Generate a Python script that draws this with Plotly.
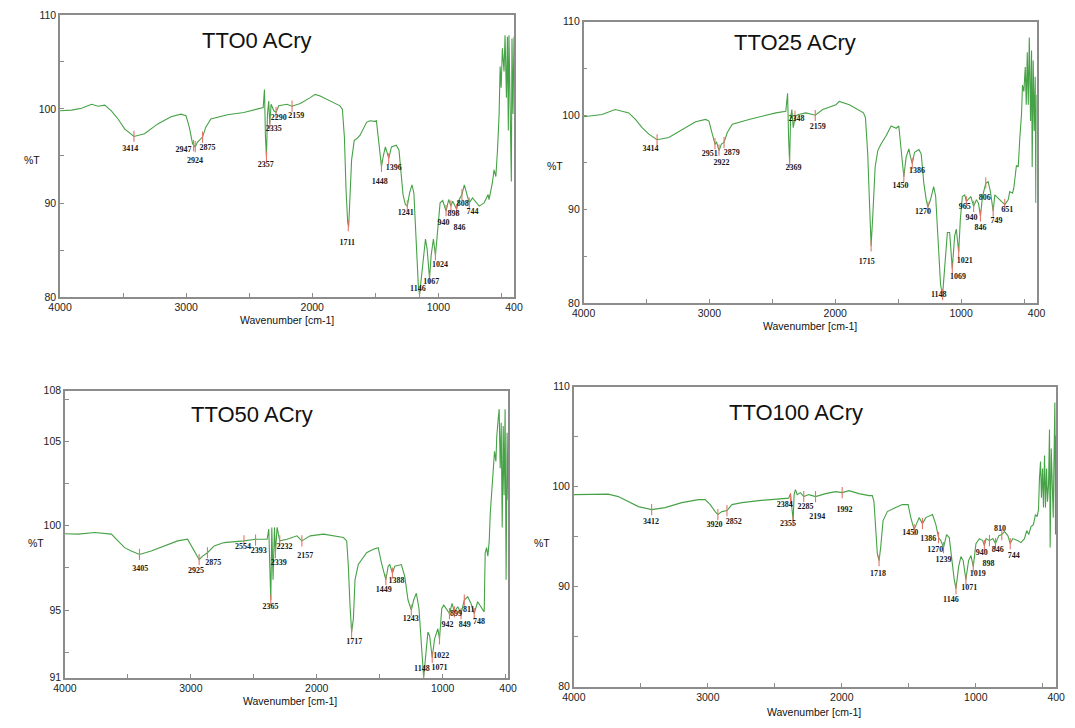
import plotly.graph_objects as go

# ---------------- Panel 1 : TTO0 ACry ----------------
p1_wn = [4000, 3908, 3829, 3750, 3698, 3645, 3593, 3540, 3488, 3414, 3330, 3225, 3120, 3041, 3001, 2975,
         2949, 2941, 2928, 2910, 2883, 2870, 2844, 2804, 2673, 2542, 2389, 2379, 2371, 2363, 2355, 2345,
         2337, 2326, 2305, 2287, 2266, 2200, 2161, 2095, 2016, 1977, 1937, 1858, 1780, 1761, 1745, 1732,
         1719, 1711, 1701, 1688, 1667, 1648, 1622, 1569, 1543, 1504, 1491, 1470, 1451, 1438, 1420, 1404,
         1393, 1372, 1333, 1312, 1294, 1280, 1262, 1246, 1228, 1209, 1194, 1175, 1159, 1149, 1133, 1115,
         1102, 1089, 1070, 1057, 1039, 1023, 1004, 986, 965, 947, 939, 918, 900, 886, 865, 855, 834, 813,
         794, 768, 755, 729, 676, 637, 605, 598, 572, 558, 544, 531, 518, 510, 502, 492, 479, 471, 460,
         452, 445, 440, 432, 421, 416, 408, 400]
p1_T = [99.8, 99.87, 100.08, 100.5, 100.29, 100.4, 99.8, 98.93, 97.88, 97.08, 97.36, 98.41, 99.17, 99.45,
        99.28, 98.06, 96.31, 96.14, 95.96, 96.48, 96.83, 97.01, 98.06, 98.93, 99.38, 99.63, 100.15, 102.07,
        97.01, 94.91, 99.45, 100.85, 98.41, 100.5, 99.8, 99.63, 100.33, 100.5, 100.29, 100.57, 101.2,
        101.55, 101.37, 100.85, 100.33, 99.98, 97.01, 91.42, 87.93, 87.51, 90.02, 94.56, 96.66, 96.83,
        97.18, 98.58, 98.75, 98.68, 98.75, 95.96, 93.87, 94.91, 95.96, 95.26, 94.74, 95.96, 96.14, 95.61,
        93.17, 90.9, 89.85, 89.67, 91.07, 91.94, 91.07, 85.83, 81.29, 80.24, 82.34, 85.13, 86.18, 85.13,
        81.99, 84.44, 86.18, 84.44, 87.23, 90.02, 90.27, 89.5, 89.15, 90.37, 89.67, 90.2, 89.67, 89.33,
        90.37, 90.9, 91.94, 90.72, 90.02, 90.55, 89.67, 90.02, 90.9, 90.37, 92.12, 93.52, 92.82, 95.61,
        99.45, 104.52, 102.25, 106.44, 103.99, 107.83, 101.2, 107.66, 97.71, 107.83, 101.2, 92.29, 107.49,
        99.45, 107.66]
p1_labels = ['3414', '2947', '2924', '2875', '2357', '2335', '2290', '2159', '1711', '1448', '1396', '1241',
             '1146', '1067', '1024', '940', '898', '846', '808', '744']
p1_lab_wn = [3443, 3020, 2930, 2831, 2368, 2305, 2266, 2126, 1722, 1464, 1354, 1259, 1162, 1057, 986, 958,
             880, 833, 807, 728]
p1_lab_T = [95.7, 95.6, 94.5, 95.8, 94.0, 97.9, 99.0, 99.2, 85.7, 92.2, 93.7, 88.9, 80.9, 81.6, 83.4, 87.9,
            88.8, 87.3, 89.9, 89.0]
p1_peak_wn = [3414, 2941, 2928, 2870, 2363, 2337, 2287, 2160, 1714, 1451, 1394, 1246, 1149, 1070, 1023, 939,
              900, 855, 813, 755]
p1_peak_T = [97.1, 96.1, 96.0, 97.0, 94.9, 98.4, 99.6, 100.3, 87.6, 93.9, 94.7, 89.7, 80.2, 82.0, 84.5, 89.2,
             89.7, 89.3, 90.9, 90.0]

# ---------------- Panel 2 : TTO25 ACry ----------------
p2_wn = [4000, 3854, 3748, 3641, 3588, 3535, 3482, 3416, 3323, 3216, 3110, 3030, 3004, 2977, 2956, 2943,
         2924, 2905, 2884, 2858, 2818, 2685, 2472, 2393, 2379, 2371, 2363, 2355, 2345, 2334, 2318, 2292,
         2233, 2159, 2100, 1994, 1968, 1888, 1808, 1776, 1760, 1742, 1728, 1715, 1702, 1683, 1662, 1636,
         1596, 1556, 1516, 1495, 1476, 1455, 1437, 1415, 1402, 1388, 1370, 1335, 1317, 1296, 1277, 1264,
         1243, 1218, 1202, 1184, 1163, 1147, 1131, 1109, 1091, 1070, 1051, 1038, 1019, 1006, 990, 971, 958,
         945, 923, 900, 878, 862, 846, 830, 804, 785, 767, 745, 732, 706, 653, 626, 613, 591, 581, 560, 546,
         533, 520, 512, 501, 490, 482, 474, 466, 458, 448, 440, 435, 427, 419, 411, 406, 400]
p2_T = [99.86, 100.1, 100.63, 100.28, 99.58, 98.71, 98.01, 97.41, 97.66, 98.53, 99.34, 99.58, 99.41, 98.01,
        96.96, 97.13, 96.26, 96.96, 97.13, 98.18, 99.06, 99.58, 100.28, 100.45, 102.38, 97.66, 95.03, 99.76,
        100.63, 98.71, 99.93, 100.1, 100.28, 100.03, 100.63, 101.15, 101.5, 101.15, 100.52, 100.28, 99.76,
        95.91, 90.66, 86.12, 89.27, 94.51, 96.26, 96.96, 97.83, 98.88, 98.64, 98.88, 96.26, 93.46, 95.56,
        96.43, 95.56, 94.86, 96.08, 96.36, 95.91, 92.76, 91.01, 90.24, 91.01, 92.41, 91.36, 86.47, 81.92,
        80.87, 83.67, 87.52, 87.52, 83.67, 87.17, 87.87, 85.42, 88.92, 91.36, 91.54, 90.84, 91.01, 91.36,
        90.31, 91.01, 90.66, 89.27, 91.36, 92.76, 92.94, 91.89, 89.79, 91.54, 91.19, 90.49, 91.01, 91.89,
        91.71, 92.24, 94.69, 94.51, 97.66, 100.1, 103.25, 102.55, 105.17, 101.15, 106.75, 101.15, 108.32,
        99.41, 106.92, 94.51, 105.87, 98.36, 104.13, 90.66, 102.2]
p2_labels = ['3414', '2951', '2922', '2879', '2369', '2348', '2159', '1715', '1450', '1386', '1270', '1148',
             '1069', '1021', '965', '940', '846', '806', '749', '651']
p2_lab_wn = [3469, 2998, 2905, 2823, 2332, 2308, 2140, 1750, 1481, 1351, 1303, 1178, 1024, 971, 971, 918,
             846, 812, 719, 634]
p2_lab_T = [96.4, 95.9, 94.9, 96.0, 94.4, 99.6, 98.8, 84.4, 92.5, 94.1, 89.7, 80.9, 82.8, 84.5, 90.2, 89.1,
            88.0, 91.2, 88.7, 89.9]
p2_peak_wn = [3416, 2956, 2924, 2884, 2363, 2320, 2159, 1715, 1455, 1388, 1264, 1147, 1070, 1019, 958, 900,
              846, 804, 745, 653]
p2_peak_T = [97.4, 97.0, 96.3, 97.1, 95.0, 99.9, 100.0, 86.1, 93.5, 94.9, 90.2, 80.9, 83.7, 85.4, 90.8, 90.3,
             89.3, 92.8, 89.8, 90.5]

# ---------------- Panel 3 : TTO50 ACry ----------------
p3_wn = [4000, 3895, 3763, 3631, 3579, 3526, 3473, 3408, 3315, 3210, 3105, 3026, 2986, 2960, 2934, 2907,
         2868, 2815, 2736, 2578, 2486, 2394, 2381, 2373, 2365, 2357, 2347, 2336, 2328, 2315, 2294, 2236,
         2157, 2118, 2052, 1946, 1788, 1762, 1749, 1736, 1723, 1709, 1696, 1670, 1604, 1551, 1512, 1486,
         1451, 1433, 1420, 1399, 1380, 1328, 1301, 1275, 1249, 1230, 1209, 1188, 1170, 1151, 1136, 1117,
         1104, 1083, 1064, 1038, 1025, 1007, 991, 972, 946, 925, 907, 880, 854, 828, 801, 775, 749, 722,
         683, 670, 662, 651, 641, 630, 622, 612, 604, 596, 588, 577, 570, 559, 551, 543, 535, 527, 519,
         512, 504, 496, 488, 480]
p3_T = [99.52, 99.5, 99.6, 99.5, 99.1, 98.7, 98.5, 98.3, 98.5, 98.8, 99.1, 99.2, 98.7, 98.3, 98.0, 98.2,
        98.4, 98.8, 99.0, 99.1, 99.2, 99.2, 99.8, 97.6, 95.6, 99.9, 96.8, 99.9, 98.4, 99.9, 99.1, 99.2,
        99.4, 99.1, 99.4, 99.5, 99.3, 99.1, 97.6, 95.3, 93.7, 94.5, 96.8, 97.7, 98.4, 98.6, 98.7, 97.8,
        96.8, 97.6, 97.7, 97.2, 97.6, 97.7, 97.0, 95.6, 95.0, 95.6, 96.0, 95.1, 93.1, 91.0, 92.2, 93.7,
        93.5, 92.2, 93.3, 93.9, 93.3, 95.1, 95.3, 95.1, 94.8, 95.4, 94.9, 95.2, 94.8, 95.6, 95.8, 95.4,
        94.8, 95.5, 95.1, 94.9, 98.4, 98.7, 98.2, 99.1, 100.7, 101.8, 103.2, 103.6, 104.4, 103.8, 105.3,
        106.3, 106.9, 103.4, 106.1, 99.9, 105.9, 101.8, 106.9, 96.8, 105.5, 101.5]
p3_labels = ['3405', '2925', '2875', '2554', '2393', '2365', '2339', '2232', '2157', '1717', '1449', '1388',
             '1243', '1148', '1071', '1022', '942', '899', '849', '811', '748']
p3_lab_wn = [3402, 2960, 2823, 2586, 2460, 2368, 2302, 2257, 2091, 1702, 1467, 1367, 1254, 1165, 1025, 1012,
             962, 893, 825, 793, 712]
p3_lab_T = [97.43, 97.3, 97.8, 98.75, 98.5, 95.2, 97.8, 98.75, 98.2, 93.1, 96.2, 96.7, 94.5, 91.5, 91.6,
            92.3, 94.15, 94.75, 94.15, 95.0, 94.3]
p3_peak_wn = [3408, 2934, 2868, 2578, 2486, 2365, 2328, 2294, 2118, 1723, 1451, 1399, 1249, 1151, 1083,
              1025, 946, 907, 854, 828, 749]
p3_peak_T = [98.3, 98.0, 98.4, 99.1, 99.15, 95.6, 98.4, 99.1, 99.1, 93.7, 96.8, 97.2, 95.0, 91.0, 92.2,
             93.3, 94.8, 94.9, 94.8, 95.6, 94.8]

# ---------------- Panel 4 : TTO100 ACry ----------------
p4_wn = [4000, 3868, 3743, 3668, 3593, 3518, 3419, 3319, 3194, 3069, 3020, 2982, 2945, 2925, 2895, 2857,
         2820, 2745, 2620, 2496, 2396, 2383, 2371, 2363, 2356, 2346, 2333, 2309, 2284, 2246, 2196, 2121,
         2047, 1997, 1947, 1872, 1797, 1772, 1760, 1747, 1735, 1722, 1710, 1692, 1660, 1598, 1548, 1505,
         1485, 1460, 1443, 1423, 1398, 1373, 1323, 1298, 1278, 1261, 1241, 1218, 1198, 1178, 1161, 1148,
         1128, 1111, 1094, 1074, 1054, 1036, 1019, 999, 973, 948, 936, 923, 898, 873, 853, 828, 806, 786,
         761, 743, 724, 688, 663, 637, 620, 605, 588, 570, 555, 542, 532, 525, 517, 510, 502, 495, 487,
         480, 472, 465, 457, 450, 445, 437, 430, 422, 418, 410, 405, 400]
p4_T = [99.2, 99.25, 99.25, 99.0, 98.5, 98.0, 97.7, 97.9, 98.4, 98.7, 98.7, 98.2, 97.5, 97.2, 97.5, 97.6,
        98.2, 98.4, 98.6, 98.75, 98.85, 99.3, 97.9, 96.6, 99.2, 99.7, 99.2, 99.4, 99.0, 99.2, 99.0, 99.3,
        99.5, 99.4, 99.6, 99.3, 99.1, 99.1, 98.5, 95.9, 93.3, 92.6, 93.9, 96.6, 97.5, 97.9, 98.2, 98.2,
        96.9, 95.7, 96.2, 96.9, 96.3, 96.9, 97.2, 96.2, 94.9, 94.6, 93.9, 95.2, 94.9, 92.6, 90.7, 89.8,
        92.0, 93.0, 92.6, 90.7, 92.6, 93.1, 92.0, 94.3, 94.8, 94.6, 94.1, 94.8, 94.6, 94.8, 94.3, 95.1,
        95.2, 95.5, 95.1, 94.3, 94.8, 94.6, 94.4, 94.8, 95.6, 95.2, 96.0, 96.2, 97.2, 97.0, 97.7, 100.8,
        102.5, 98.9, 101.8, 97.9, 103.1, 97.9, 101.8, 98.5, 100.2, 105.7, 93.9, 103.8, 100.2, 96.9, 101.1,
        108.4, 95.2, 105.1]
p4_labels = ['3412', '3920', '2852', '2384', '2355', '2285', '2194', '1992', '1718', '1450', '1386', '1270',
             '1239', '1146', '1071', '1019', '940', '898', '846', '810', '744']
p4_lab_wn = [3424, 2950, 2807, 2426, 2401, 2271, 2184, 1979, 1730, 1490, 1355, 1303, 1241, 1186, 1049, 986,
             956, 906, 836, 819, 717]
p4_lab_T = [96.5, 96.2, 96.5, 98.2, 96.3, 98.0, 97.0, 97.7, 91.3, 95.4, 94.8, 93.7, 92.7, 88.7, 89.9, 91.3,
            93.4, 92.3, 93.7, 95.8, 93.1]
p4_peak_wn = [3419, 2925, 2857, 2383, 2363, 2284, 2196, 1997, 1722, 1460, 1398, 1278, 1241, 1148, 1074,
              1019, 936, 898, 853, 806, 743]
p4_peak_T = [97.7, 97.2, 97.6, 98.8, 96.6, 99.0, 99.0, 99.4, 92.6, 95.7, 96.3, 94.9, 93.9, 89.8, 90.7, 92.0,
             94.1, 94.6, 94.3, 95.2, 94.3]

titles = ['TTO0 ACry', 'TTO25 ACry', 'TTO50 ACry', 'TTO100 ACry']

# axis ticks
x_tickvals = [4000, 3500, 3000, 2500, 2000, 1500, 1000, 500, 400]
x_ticktext = ['4000', '', '3000', '', '2000', '', '1000', '', '400']
x3_tickvals = [4000, 3500, 3000, 2500, 2000, 1500, 1000, 500, 480]
y_tickvals = [80, 85, 90, 95, 100, 105, 110]
y_ticktext = ['80', '', '90', '', '100', '', '110']
y3_tickvals = [91, 92.5, 95, 97.5, 100, 102.5, 105, 107.5, 108]
y3_ticktext = ['91', '', '95', '', '100', '', '105', '', '108']

W, H = 1075, 728
LINE_GREEN = '#46a246'
RED = '#e57368'
SANS = 'Liberation Sans, Arial, sans-serif'
SERIF = 'Liberation Serif, Times New Roman, serif'

panels = [
    dict(wn=p1_wn, T=p1_T, lab=p1_labels, lx=p1_lab_wn, ly=p1_lab_T, px=p1_peak_wn, py=p1_peak_T,
         box=(49, 512, 9, 296), xr=[4000, 400], yr=[80, 110], xtv=x_tickvals, ytv=y_tickvals, ytt=y_ticktext,
         title=(250, 35), pct=(20, 157), xt=(280, 319)),
    dict(wn=p2_wn, T=p2_T, lab=p2_labels, lx=p2_lab_wn, ly=p2_lab_T, px=p2_peak_wn, py=p2_peak_T,
         box=(583, 1045, 16, 302), xr=[4000, 400], yr=[80, 110], xtv=x_tickvals, ytv=y_tickvals, ytt=y_ticktext,
         title=(799, 37), pct=(554, 163), xt=(814, 325)),
    dict(wn=p3_wn, T=p3_T, lab=p3_labels, lx=p3_lab_wn, ly=p3_lab_T, px=p3_peak_wn, py=p3_peak_T,
         box=(54, 506, 391, 683), xr=[4000, 480], yr=[91, 108], xtv=x3_tickvals, ytv=y3_tickvals, ytt=y3_ticktext,
         title=(245, 415), pct=(24, 546), xt=(284, 707)),
    dict(wn=p4_wn, T=p4_T, lab=p4_labels, lx=p4_lab_wn, ly=p4_lab_T, px=p4_peak_wn, py=p4_peak_T,
         box=(573, 1065, 387, 692), xr=[4000, 400], yr=[80, 110], xtv=x_tickvals, ytv=y_tickvals, ytt=y_ticktext,
         title=(800, 413), pct=(541, 546), xt=(818, 718)),
]

fig = go.Figure()
layout = dict(width=W, height=H, margin=dict(l=0, r=0, t=0, b=0), paper_bgcolor='white',
              plot_bgcolor='white', showlegend=False, annotations=[])

for i, p in enumerate(panels):
    n = '' if i == 0 else str(i + 1)
    xref, yref = 'x' + n, 'y' + n
    fig.add_trace(go.Scatter(x=p['wn'], y=p['T'], mode='lines', xaxis=xref, yaxis=yref,
                             line=dict(color=LINE_GREEN, width=1.1), hoverinfo='skip'))
    fig.add_trace(go.Scatter(x=p['px'], y=p['py'], mode='markers', xaxis=xref, yaxis=yref,
                             marker=dict(symbol='line-ns', size=8, line=dict(color=RED, width=1.1)),
                             hoverinfo='skip'))
    fig.add_trace(go.Scatter(x=p['lx'], y=p['ly'], mode='text', text=p['lab'], xaxis=xref, yaxis=yref,
                             textfont=dict(family=SERIF, size=8, color='#1a1a1a', weight='bold'),
                             hoverinfo='skip', cliponaxis=False))
    x0, x1, y0, y1 = p['box']
    common = dict(showline=True, linecolor='#8c8c8c', linewidth=1.5, mirror=True, showgrid=False,
                  zeroline=False, ticks='inside', ticklen=4, tickcolor='#8c8c8c', tickwidth=1,
                  tickfont=dict(family=SANS, size=10.5, color='#222222'))
    layout['xaxis' + n] = dict(domain=[x0 / W, x1 / W], anchor=yref, range=p['xr'], tickmode='array',
                               tickvals=p['xtv'], ticktext=x_ticktext, **common)
    layout['yaxis' + n] = dict(domain=[1 - y1 / H, 1 - y0 / H], anchor=xref, range=p['yr'], tickmode='array',
                               tickvals=p['ytv'], ticktext=p['ytt'], **common)
    for txt, pos, size in [(titles[i], p['title'], 22), ('%T', p['pct'], 10.5),
                           ('Wavenumber [cm-1]', p['xt'], 10.5)]:
        layout['annotations'].append(dict(text=txt, xref='paper', yref='paper', x=pos[0] / W, y=1 - pos[1] / H,
                                          xanchor='center', yanchor='middle', showarrow=False,
                                          font=dict(family=SANS, size=size, color='#111111')))

fig.update_layout(**layout)
fig.write_html('out.html')
